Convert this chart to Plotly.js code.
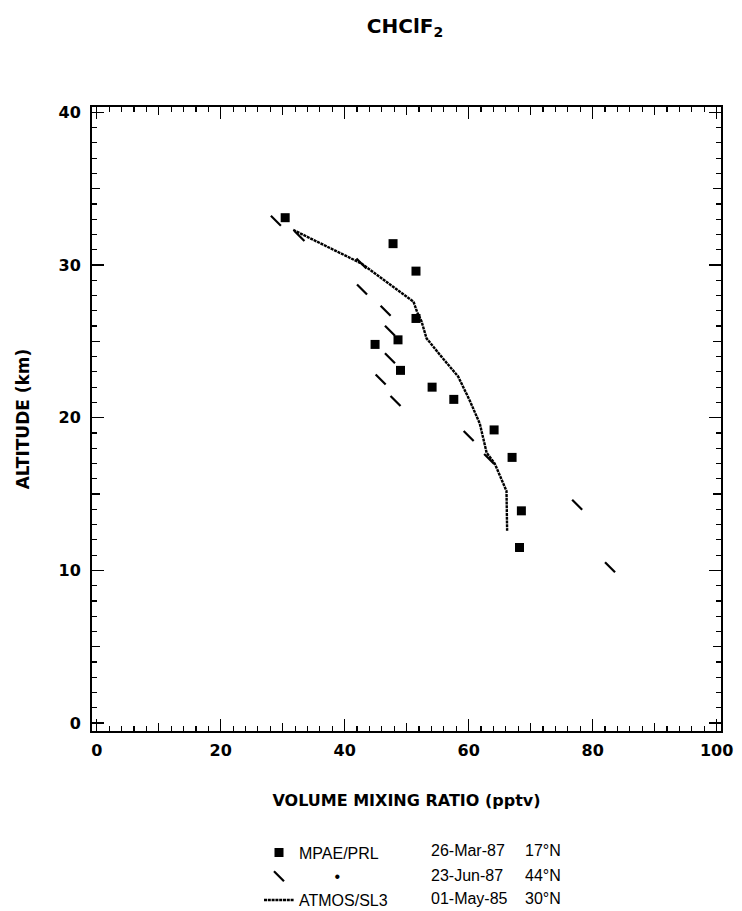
<!DOCTYPE html>
<html>
<head>
<meta charset="utf-8">
<script src="https://cdn.plot.ly/plotly-3.0.1.min.js"></script>
<style>html,body{margin:0;padding:0;background:#fff;}#chart{width:742px;height:911px;}</style>
</head>
<body>
<div id="chart"></div>
<script>
// MPAE/PRL 26-Mar-87 17°N (squares)
var mpaeX = [30.4, 47.8, 51.5, 51.5, 48.6, 44.9, 49.0, 54.1, 57.6, 64.1, 67.0, 68.5, 68.2];
var mpaeY = [33.1, 31.4, 29.6, 26.5, 25.1, 24.8, 23.1, 22.0, 21.2, 19.2, 17.4, 13.9, 11.5];
// MPAE/PRL 23-Jun-87 44°N (dashes)
var mpae2X = [28.9, 32.7, 42.7, 42.8, 46.6, 47.3, 47.3, 45.8, 48.2, 60.0, 63.3, 77.5, 82.8];
var mpae2Y = [32.9, 31.9, 30.1, 28.4, 27.0, 25.7, 23.9, 22.5, 21.1, 18.8, 17.3, 14.3, 10.2];
// ATMOS/SL3 01-May-85 30°N (line)
var atmosX = [31.7, 42.7, 51.1, 51.7, 52.4, 53.2, 55.6, 58.3, 60.2, 61.8, 62.9, 64.2, 66.1, 66.2];
var atmosY = [32.3, 30.1, 27.6, 26.9, 26.3, 25.2, 24.0, 22.7, 21.1, 19.6, 17.7, 17.0, 15.2, 12.6];

var seriesNames = ['MPAE/PRL', '\u00a0\u00a0\u00a0\u00a0\u00a0\u00a0\u00a0\u00a0\u2022', 'ATMOS/SL3'];
var dates = ['26-Mar-87', '23-Jun-87', '01-May-85'];
var lats = ['17\u00b0N', '44\u00b0N', '30\u00b0N'];

var titleText = 'CHClF<sub>2</sub>';
var xTitle = 'VOLUME MIXING RATIO (pptv)';
var yTitle = 'ALTITUDE (km)';

var boldFont = 'DejaVu Sans';
var legFont = 'Liberation Sans, Arial, sans-serif';

var traces = [
  {x: mpaeX, y: mpaeY, name: seriesNames[0], mode: 'markers', type: 'scatter',
   marker: {symbol: 'square', size: 9, color: '#000'}},
  {x: mpae2X, y: mpae2Y, name: seriesNames[1], mode: 'markers', type: 'scatter',
   marker: {symbol: 'line-nw', size: 10, color: '#000', line: {width: 2.2, color: '#000'}}},
  {x: atmosX, y: atmosY, name: seriesNames[2], mode: 'lines', type: 'scatter',
   line: {color: '#000', width: 2.4, dash: '3px,0.8px'}},
  {x: [], y: [], xaxis: 'x2', yaxis: 'y2', showlegend: false, hoverinfo: 'skip', type: 'scatter'}
];

var xr = [-0.76, 100.7];
var yr = [-0.52, 40.35];

var annotations = [];
var rowY = [-0.1923, -0.2308, -0.2692];
for (var i = 0; i < dates.length; i++) {
  annotations.push({text: dates[i], xref: 'paper', yref: 'paper', x: (429 - 92) / 629, y: rowY[i],
    xanchor: 'left', yanchor: 'middle', showarrow: false, font: {family: legFont, size: 16, color: '#000'}});
  annotations.push({text: lats[i], xref: 'paper', yref: 'paper', x: (523 - 92) / 629, y: rowY[i],
    xanchor: 'left', yanchor: 'middle', showarrow: false, font: {family: legFont, size: 16, color: '#000'}});
}

var layout = {
  width: 742, height: 911,
  margin: {l: 92, r: 21, t: 107, b: 180, autoexpand: false},
  paper_bgcolor: '#fff', plot_bgcolor: '#fff',
  showlegend: true,
  title: {text: titleText, x: 405 / 742, xanchor: 'center', xref: 'container',
          y: 1 - 26 / 911, yanchor: 'middle', yref: 'container',
          font: {family: boldFont, size: 20, color: '#000', weight: 'bold'}},
  xaxis: {range: xr, dtick: 20, tick0: 0, ticks: 'inside', ticklen: 12, tickwidth: 1.5,
          tickcolor: '#000', showline: true, linewidth: 2, linecolor: '#000', mirror: 'ticks',
          showgrid: false, zeroline: false,
          minor: {dtick: 2, tick0: 0, ticks: 'inside', ticklen: 5, tickwidth: 1.2, tickcolor: '#000', showgrid: false},
          tickfont: {family: boldFont, size: 16, color: '#000', weight: 'bold'},
          ticklabelstandoff: 4,
          title: {text: xTitle, standoff: 36, font: {family: boldFont, size: 16, color: '#000', weight: 'bold'}}},
  yaxis: {range: yr, dtick: 10, tick0: 0, ticks: 'inside', ticklen: 12, tickwidth: 1.5,
          tickcolor: '#000', showline: true, linewidth: 2, linecolor: '#000', mirror: 'ticks',
          showgrid: false, zeroline: false,
          minor: {dtick: 1, tick0: 0, ticks: 'inside', ticklen: 5, tickwidth: 1.2, tickcolor: '#000', showgrid: false},
          tickfont: {family: boldFont, size: 16, color: '#000', weight: 'bold'},
          ticklabelstandoff: 6,
          title: {text: yTitle, standoff: 25, font: {family: boldFont, size: 17, color: '#000', weight: 'bold'}}},
  xaxis2: {range: xr, overlaying: 'x', anchor: 'y', dtick: 10, tick0: 0, ticks: 'inside', ticklen: 8,
           tickwidth: 1.3, tickcolor: '#000', showticklabels: false, showline: false, mirror: 'ticks',
           showgrid: false, zeroline: false},
  yaxis2: {range: yr, overlaying: 'y', anchor: 'x', dtick: 5, tick0: 0, ticks: 'inside', ticklen: 8,
           tickwidth: 1.3, tickcolor: '#000', showticklabels: false, showline: false, mirror: 'ticks',
           showgrid: false, zeroline: false},
  legend: {x: (259 - 92) / 629, xanchor: 'left', y: -0.1675, yanchor: 'top',
           bgcolor: 'rgba(0,0,0,0)', borderwidth: 0,
           font: {family: legFont, size: 16, color: '#000'}, itemwidth: 30, tracegroupgap: 0},
  annotations: annotations
};

Plotly.newPlot('chart', traces, layout, {displayModeBar: false, staticPlot: true});
</script>
</body>
</html>
